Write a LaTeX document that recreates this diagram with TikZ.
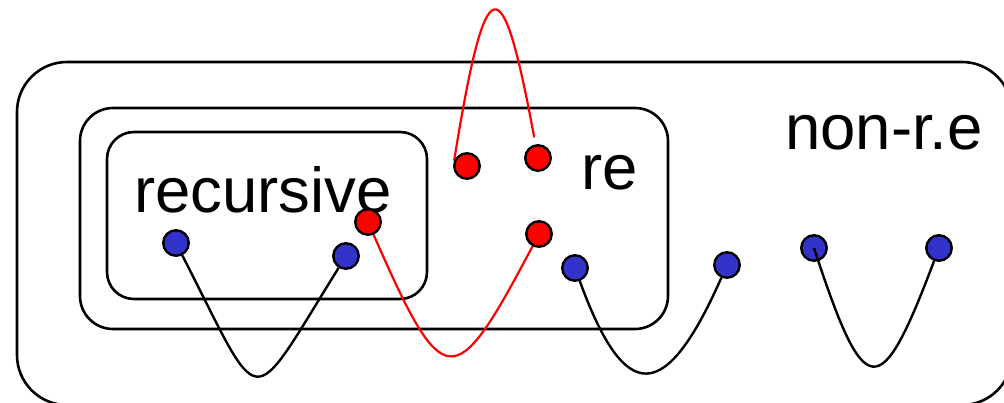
\documentclass[tikz,border=0pt]{standalone}
\usepackage{fontspec}
\setmainfont{Liberation Sans}
\definecolor{dotblue}{RGB}{51,51,204}
\pgfdeclarelayer{bg}
\pgfsetlayers{bg,main}
\begin{document}
\begin{tikzpicture}[x=1pt,y=-1pt,
  box/.style={draw,line width=2.6pt,rounded corners=#1},
  lbl/.style={font=\fontsize{63.5}{70}\selectfont, inner sep=0pt, anchor=base},
  bdot/.style={circle,draw,line width=2.4pt,fill=dotblue,minimum size=25.5pt,inner sep=0pt},
  rdot/.style={bdot,fill=red},
  blk/.style={draw,line width=2.4pt},
  redl/.style={draw=red,line width=2.2pt}]
\useasboundingbox (0,0) rectangle (1004,403);
\clip (0,0) rectangle (1004,403);
% labels
\node[lbl] (trec) at (263,213) {recursive};
\node[lbl] (tre) at (610,190) {re};
\node[lbl] (tnon) at (884,150) {non-r.e};
% dots
\node[bdot] (b1) at (176,243) {};
\node[bdot] (b2) at (346,256) {};
\node[bdot] (b3) at (575,268) {};
\node[bdot] (b4) at (727,265) {};
\node[bdot] (b5) at (814,248) {};
\node[bdot] (b6) at (939,248) {};
\node[rdot] (r1) at (368,222) {};
\node[rdot] (r2) at (467,166) {};
\node[rdot] (r3) at (538,158) {};
\node[rdot] (r4) at (539,234) {};
\begin{pgfonlayer}{bg}
% boxes
\draw[box=50pt] (17,62) rectangle (1012,405);
\draw[box=33pt] (80,108) rectangle (668,329);
\draw[box=27pt] (107,132) rectangle (427,299);
% connectors (under dots)
\path[blk] (b1) .. controls (264,415) and (247,415) .. (b2);
\path[redl] (r1) .. controls (444,395) and (454,395) .. (r4);
\path[blk] (b3) .. controls (625,405) and (665,405) .. (b4);
\path[redl,shorten >=7pt] (r2.157) .. controls (486,-37) and (502,-37) .. (r3);
\end{pgfonlayer}
\path[blk] (b5.center) .. controls (865,404) and (880,404) .. (b6);
\end{tikzpicture}
\end{document}
